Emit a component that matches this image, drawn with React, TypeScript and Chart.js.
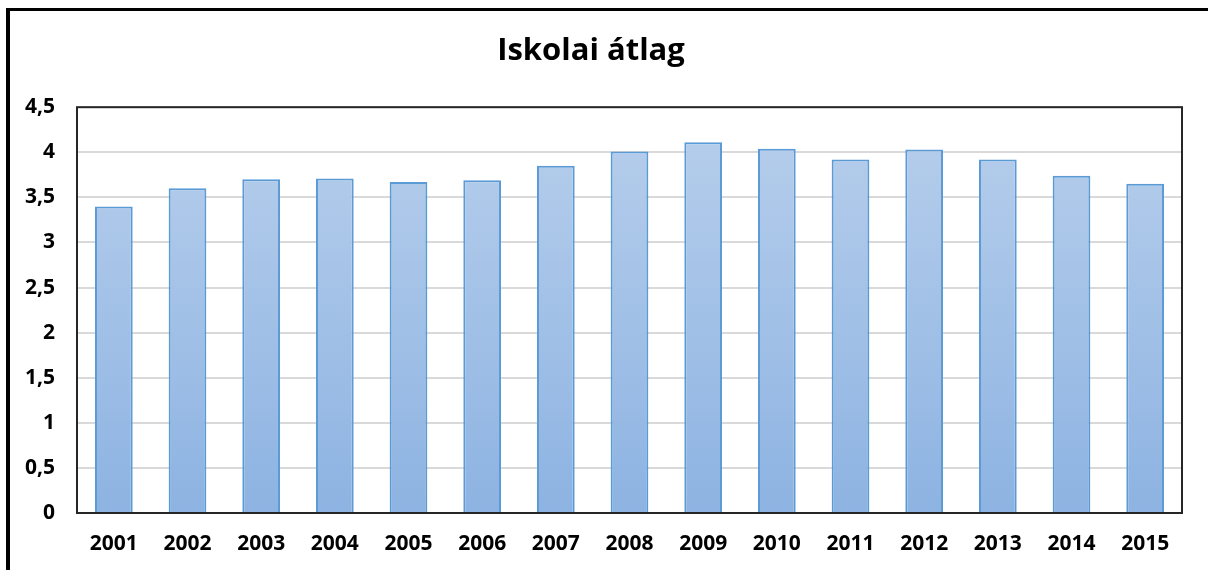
import React, { useEffect, useRef } from "react";
import { Chart, registerables } from "chart.js";

Chart.register(...registerables);

const categories = ["2001", "2002", "2003", "2004", "2005", "2006", "2007", "2008", "2009", "2010", "2011", "2012", "2013", "2014", "2015"];
const averages = [3.40, 3.60, 3.70, 3.71, 3.67, 3.69, 3.85, 4.01, 4.11, 4.04, 3.92, 4.03, 3.92, 3.74, 3.65];
const yTickStep = 0.5;
const yMax = 4.5;
const titleText = "Iskolai átlag";

const FONT = "'Open Sans', 'Noto Sans', sans-serif";

const framePlugin = {
  id: "frame",
  beforeDraw(chart: any) {
    const ctx = chart.ctx;
    ctx.save();
    ctx.fillStyle = "#ffffff";
    ctx.fillRect(0, 0, chart.width, chart.height);
    ctx.fillStyle = "#000000";
    ctx.fillRect(6, 8, chart.width - 6, 3);
    ctx.fillRect(6, 8, 4, chart.height - 8);
    ctx.restore();
  },
  afterDatasetsDraw(chart: any) {
    const { ctx, chartArea } = chart;
    ctx.save();
    ctx.strokeStyle = "#262626";
    ctx.lineWidth = 2;
    ctx.strokeRect(chartArea.left, chartArea.top, chartArea.right - chartArea.left, chartArea.bottom - chartArea.top);
    ctx.restore();
  },
};

export default function App() {
  const ref = useRef<HTMLCanvasElement | null>(null);

  useEffect(() => {
    document.body.style.margin = "0";
    const canvas = ref.current;
    if (!canvas) return;
    const chart = new Chart(canvas, {
      type: "bar",
      data: {
        labels: categories,
        datasets: [
          {
            data: averages,
            backgroundColor: (c: any) => {
              const area = c.chart.chartArea;
              if (!area) return "#a4c2e8";
              const g = c.chart.ctx.createLinearGradient(0, area.top, 0, area.bottom);
              g.addColorStop(0, "#b8cfec");
              g.addColorStop(1, "#8db3e2");
              return g;
            },
            borderColor: "#5b9bd5",
            borderWidth: 2,
            barPercentage: 0.512,
            categoryPercentage: 1,
          },
        ],
      },
      options: {
        responsive: false,
        animation: false,
        layout: { padding: { left: 0, right: 26, top: 0, bottom: 0 } },
        plugins: {
          legend: { display: false },
          tooltip: { enabled: false },
          title: {
            display: true,
            text: titleText,
            color: "#000000",
            font: { family: FONT, size: 31, weight: "bold" },
            padding: { top: 33, bottom: 37 },
          },
        },
        scales: {
          x: {
            grid: { display: false, drawTicks: false },
            border: { display: false },
            ticks: {
              color: "#000000",
              font: { family: FONT, size: 21, weight: "bold" },
              padding: 18,
              maxRotation: 0,
              autoSkip: false,
            },
            afterFit: (s: any) => {
              s.height = 57;
            },
          },
          y: {
            min: 0,
            max: yMax,
            grid: { color: "#d9d9d9", lineWidth: 2, drawTicks: false },
            border: { display: false },
            ticks: {
              stepSize: yTickStep,
              color: "#000000",
              font: { family: FONT, size: 21, weight: "bold" },
              padding: 22,
              callback: (v: any) => String(v).replace(".", ","),
            },
            afterFit: (s: any) => {
              s.width = 77;
            },
          },
        },
      },
      plugins: [framePlugin],
    });
    return () => chart.destroy();
  }, []);

  return <canvas ref={ref} width={1208} height={570} style={{ display: "block" }} />;
}
